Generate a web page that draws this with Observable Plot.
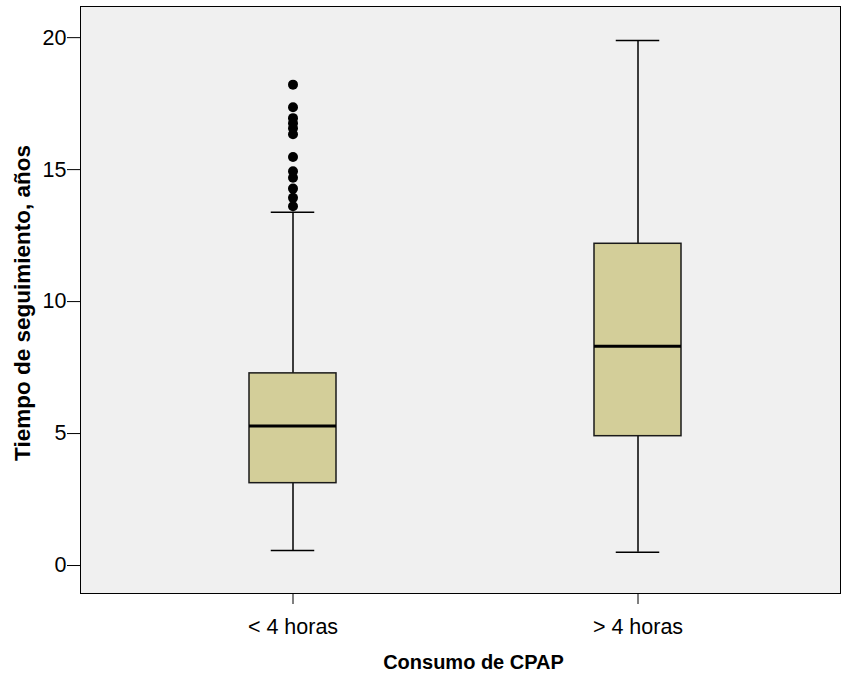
<!DOCTYPE html>
<html>
<head>
<meta charset="utf-8">
<script src="https://cdn.jsdelivr.net/npm/d3@7"></script>
<script src="https://cdn.jsdelivr.net/npm/@observablehq/plot@0.6"></script>
<style>
  html, body { margin: 0; padding: 0; background: #ffffff; }
  #chart svg { display: block; }
</style>
</head>
<body>
<div id="chart"></div>
<script>
const categories = ["< 4 horas", "> 4 horas"];
const whiskerLow = [0.57, 0.50];
const q1 = [3.12, 4.90];
const median = [5.29, 8.31];
const q3 = [7.28, 12.19];
const whiskerHigh = [13.38, 19.89];
const outliersLow = [18.22, 17.36, 16.95, 16.76, 16.57, 16.34, 15.48, 14.94, 14.69, 14.28, 13.93, 13.61];
const yTicks = [0, 5, 10, 15, 20];
const xTitle = "Consumo de CPAP";
const yTitle = "Tiempo de seguimiento, años";

const stats = categories.map((c, i) => ({
  cat: c, lo: whiskerLow[i], q1: q1[i], med: median[i], q3: q3[i], hi: whiskerHigh[i]
}));
const outliers = outliersLow.map(v => ({cat: categories[0], v}));

const chart = Plot.plot({
  width: 841,
  height: 680,
  marginLeft: 80,
  marginRight: 1,
  marginTop: 6,
  marginBottom: 87,
  style: {fontFamily: "'Liberation Sans', Arial, sans-serif", background: "#ffffff", color: "#000"},
  x: {domain: categories, paddingInner: 0.749, paddingOuter: 0.473, align: 0.515, label: null},
  y: {domain: [-1.06, 21.18], label: null},
  marks: [
    Plot.frame({fill: "#f0f0f0"}),
    Plot.ruleX(stats, {x: "cat", y1: "lo", y2: "q1", stroke: "black", strokeWidth: 1.5}),
    Plot.ruleX(stats, {x: "cat", y1: "q3", y2: "hi", stroke: "black", strokeWidth: 1.5}),
    Plot.tickY(stats, {x: "cat", y: "lo", stroke: "black", strokeWidth: 1.5, insetLeft: 21.75, insetRight: 21.75}),
    Plot.tickY(stats, {x: "cat", y: "hi", stroke: "black", strokeWidth: 1.5, insetLeft: 21.75, insetRight: 21.75}),
    Plot.barY(stats, {x: "cat", y1: "q1", y2: "q3", fill: "#d3ce99", stroke: "#1a1a1a", strokeWidth: 1.5}),
    Plot.tickY(stats, {x: "cat", y: "med", stroke: "black", strokeWidth: 3}),
    Plot.dot(outliers, {x: "cat", y: "v", r: 5, fill: "black", stroke: "none"}),
    Plot.frame({stroke: "black", strokeWidth: 1}),
    Plot.axisY({ticks: yTicks, tickSize: 13, tickPadding: 1, fontSize: 21.5, label: null, tickFormat: d => String(d)}),
    Plot.axisX({tickSize: 11, tickPadding: 14, fontSize: 21.5, label: null}),
    Plot.text([xTitle], {frameAnchor: "bottom", dx: 13, dy: 75, fontWeight: "bold", fontSize: 20, fill: "black"})
  ]
});
document.getElementById("chart").appendChild(chart);

d3.select(chart).append("text")
  .attr("transform", "translate(22,303) rotate(-90)")
  .attr("text-anchor", "middle")
  .attr("dominant-baseline", "central")
  .attr("font-family", "'Liberation Sans', Arial, sans-serif")
  .attr("font-weight", "bold")
  .attr("font-size", 22.5)
  .attr("fill", "black")
  .text(yTitle);
</script>
</body>
</html>
